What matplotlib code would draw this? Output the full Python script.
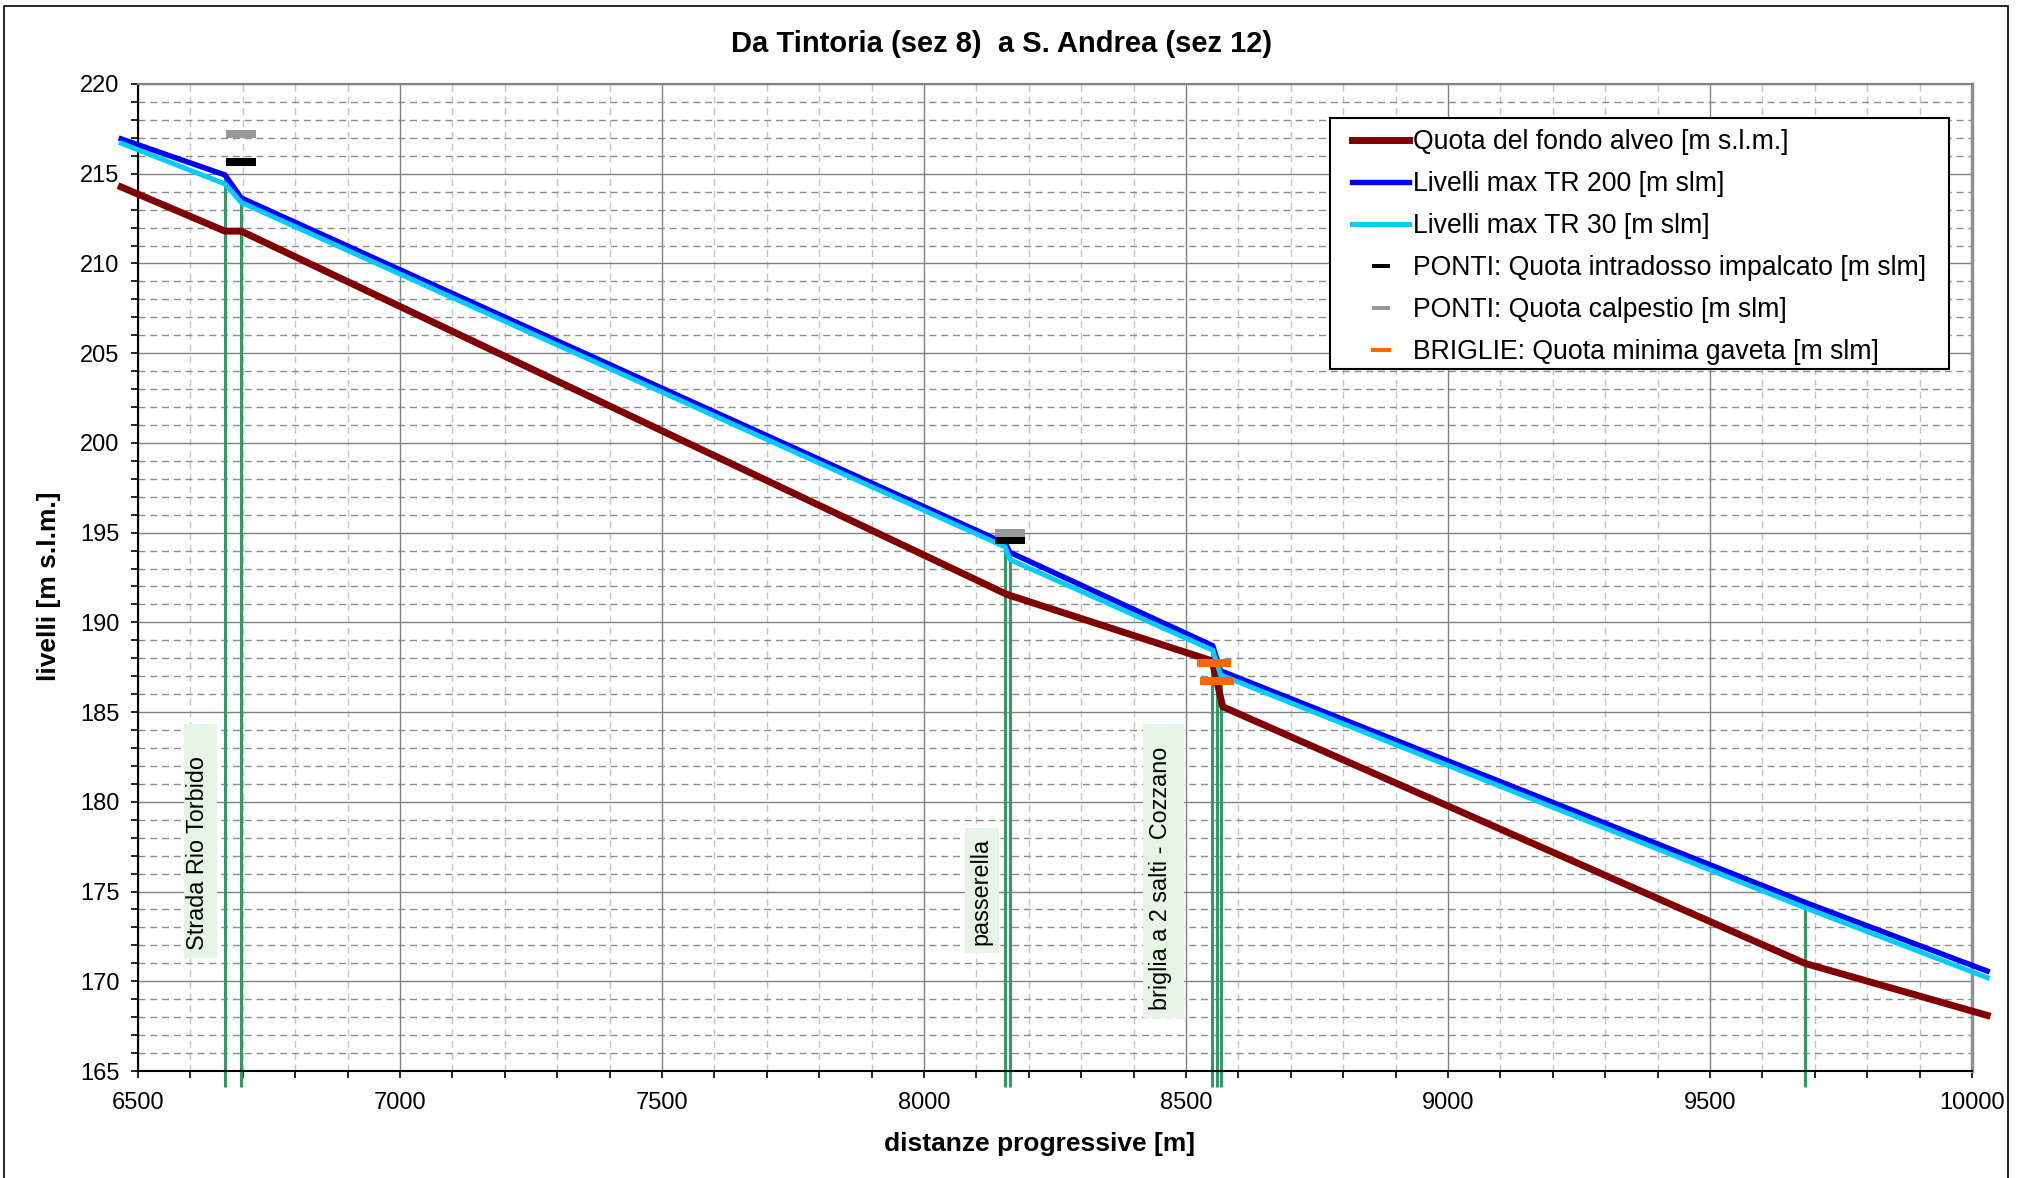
import matplotlib
matplotlib.use("Agg")
import matplotlib.pyplot as plt
from matplotlib.patches import Rectangle
from matplotlib.ticker import MultipleLocator
from matplotlib.legend_handler import HandlerLine2D

plt.rcParams["font.family"] = ["Liberation Sans", "DejaVu Sans"]

# ============================================================
# dati letti dal profilo (distanze progressive [m], quote [m slm])
# ============================================================
dist = [6468, 6666, 6697, 8155, 8164, 8551, 8566, 9681, 10029]
tr200 = [216.94, 214.93, 213.65, 194.4, 193.9, 188.7, 187.3, 174.4, 170.57]
tr30 = [216.7, 214.43, 213.4, 194.2, 193.5, 188.45, 187.07, 174.1, 170.2]

fondo_x = [6468, 6666, 6697, 8155, 8164, 8550, 8570, 9681, 10029]
fondo = [214.26, 211.8, 211.8, 191.6, 191.5, 187.85, 185.3, 171.0, 168.1]

# sezioni (linee verticali verdi)
sez_x = [6666, 6697, 8155, 8164, 8550, 8559, 8567, 9681]
sez_top = [214.93, 213.65, 194.4, 193.9, 188.7, 187.9, 187.2, 174.5]
SEZ_BASE = 164.1

# ponti e briglie
ponti_x = [6697, 8164]
intradosso = [215.63, 194.6]
calpestio = [217.21, 194.96]
briglie_x = [8554, 8559]
gaveta = [187.74, 186.73]

# etichette opere
label_text = ["Strada Rio Torbido", "passerella", "briglia a 2 salti - Cozzano"]
label_x = [6613, 8109, 8452]
box_x0 = [6588, 8078, 8418]
box_x1 = [6651, 8143, 8496]
box_y0 = [171.3, 171.58, 167.95]
box_y1 = [184.34, 178.54, 184.34]

W, H = 2022, 1178
DASH = [(-1, -0.25), (1, -0.25), (1, 0.25), (-1, 0.25), (-1, -0.25)]

fig = plt.figure(figsize=(W / 100, H / 100), dpi=100)
ax = fig.add_axes([138 / W, 107 / H, 1834 / W, 987 / H])

# riquadri etichette
for x0, x1, y0, y1 in zip(box_x0, box_x1, box_y0, box_y1):
    ax.add_patch(Rectangle((x0, y0), x1 - x0, y1 - y0, facecolor="#E6F4E6",
                           edgecolor="none", zorder=1))
for txt, x, y0 in zip(label_text, label_x, box_y0):
    ax.text(x, y0 + 0.45, txt, rotation=90, rotation_mode="anchor",
            ha="left", va="center", fontsize=16.8, zorder=1.5)

ax.vlines(sez_x, SEZ_BASE, sez_top, colors="#339966", lw=2.2, zorder=2,
          clip_on=False)

l_fondo, = ax.plot(fondo_x, fondo, color="#800000", lw=5, zorder=3,
                   clip_on=False, label="Quota del fondo alveo [m s.l.m.]")
l_200, = ax.plot(dist, tr200, color="#0000FF", lw=3.9, zorder=3.5,
                 clip_on=False, label="Livelli max TR 200 [m slm]")
l_30, = ax.plot(dist, tr30, color="#00CCFF", lw=3.6, zorder=3.6,
                clip_on=False, label="Livelli max TR 30 [m slm]")
m_intr, = ax.plot(ponti_x, intradosso, ls="none", marker=DASH, ms=21, mew=0,
                  color="black", zorder=6,
                  label="PONTI: Quota intradosso impalcato [m slm]")
m_calp, = ax.plot(ponti_x, calpestio, ls="none", marker=DASH, ms=21, mew=0,
                  color="#999999", zorder=6,
                  label="PONTI: Quota calpestio [m slm]")
m_brig, = ax.plot(briglie_x, gaveta, ls="none", marker=DASH, ms=24, mew=0,
                  color="#FF6600", zorder=6,
                  label="BRIGLIE: Quota minima gaveta [m slm]")

ax.set_xlim(6500, 10000)
ax.set_ylim(165, 220)
ax.xaxis.set_major_locator(MultipleLocator(500))
ax.xaxis.set_minor_locator(MultipleLocator(100))
ax.yaxis.set_major_locator(MultipleLocator(5))
ax.yaxis.set_minor_locator(MultipleLocator(1))

ax.set_axisbelow(True)
ax.grid(which="major", color="#808080", lw=1.0, ls="-")
ax.grid(which="minor", axis="y", color="#8c8c8c", lw=1.0, ls=(0, (5, 3.5)))
ax.grid(which="minor", axis="x", color="#c4c4c4", lw=1.0, ls=(0, (5, 3.5)))

for side in ("left", "bottom"):
    ax.spines[side].set_color("black")
    ax.spines[side].set_linewidth(1.5)
ax.spines["top"].set_color("#808080")
ax.spines["top"].set_linewidth(1.5)
ax.spines["right"].set_color("#909090")
ax.spines["right"].set_linewidth(2.5)

ax.tick_params(which="both", direction="out", length=5, width=1.2,
               colors="black", labelsize=17)
ax.tick_params(axis="y", pad=8.5)
ax.tick_params(axis="x", pad=10.4)

# testi
fig.text(1002 / W, 1 - 44 / H, "Da Tintoria (sez 8)  a S. Andrea (sez 12)",
         ha="center", va="center", fontsize=21, fontweight="bold")
fig.text(49 / W, 1 - 586 / H, "livelli [m s.l.m.]", rotation=90,
         ha="center", va="center", fontsize=19, fontweight="bold")
fig.text(1040 / W, 1 - 1144 / H, "distanze progressive [m]",
         ha="center", va="center", fontsize=19, fontweight="bold")

# legenda con cornice disegnata a parte
ax.add_patch(Rectangle((1330 / W, 1 - 369 / H), 619 / W, 251 / H,
                       transform=fig.transFigure, facecolor="white",
                       edgecolor="black", lw=1.5, zorder=7, clip_on=False))
hl = HandlerLine2D(numpoints=2, marker_pad=0.58)
leg = ax.legend(handles=[l_fondo, l_200, l_30, m_intr, m_calp, m_brig],
                loc="upper left", bbox_to_anchor=(1337 / W, 1 - 129 / H),
                bbox_transform=fig.transFigure, frameon=False, borderpad=0,
                borderaxespad=0, fontsize=19.2, handlelength=3.29,
                handletextpad=-0.44, labelspacing=0.6, markerscale=0.6,
                handler_map={l_fondo: hl, l_200: hl, l_30: hl})
leg.set_zorder(8)

# cornice esterna
fig.patches.append(Rectangle((4 / W, -0.01), 2004 / W, 1.01 - 6 / H,
                             transform=fig.transFigure, fill=False,
                             edgecolor="black", lw=1.2))

fig.savefig("out.png", dpi=100)
